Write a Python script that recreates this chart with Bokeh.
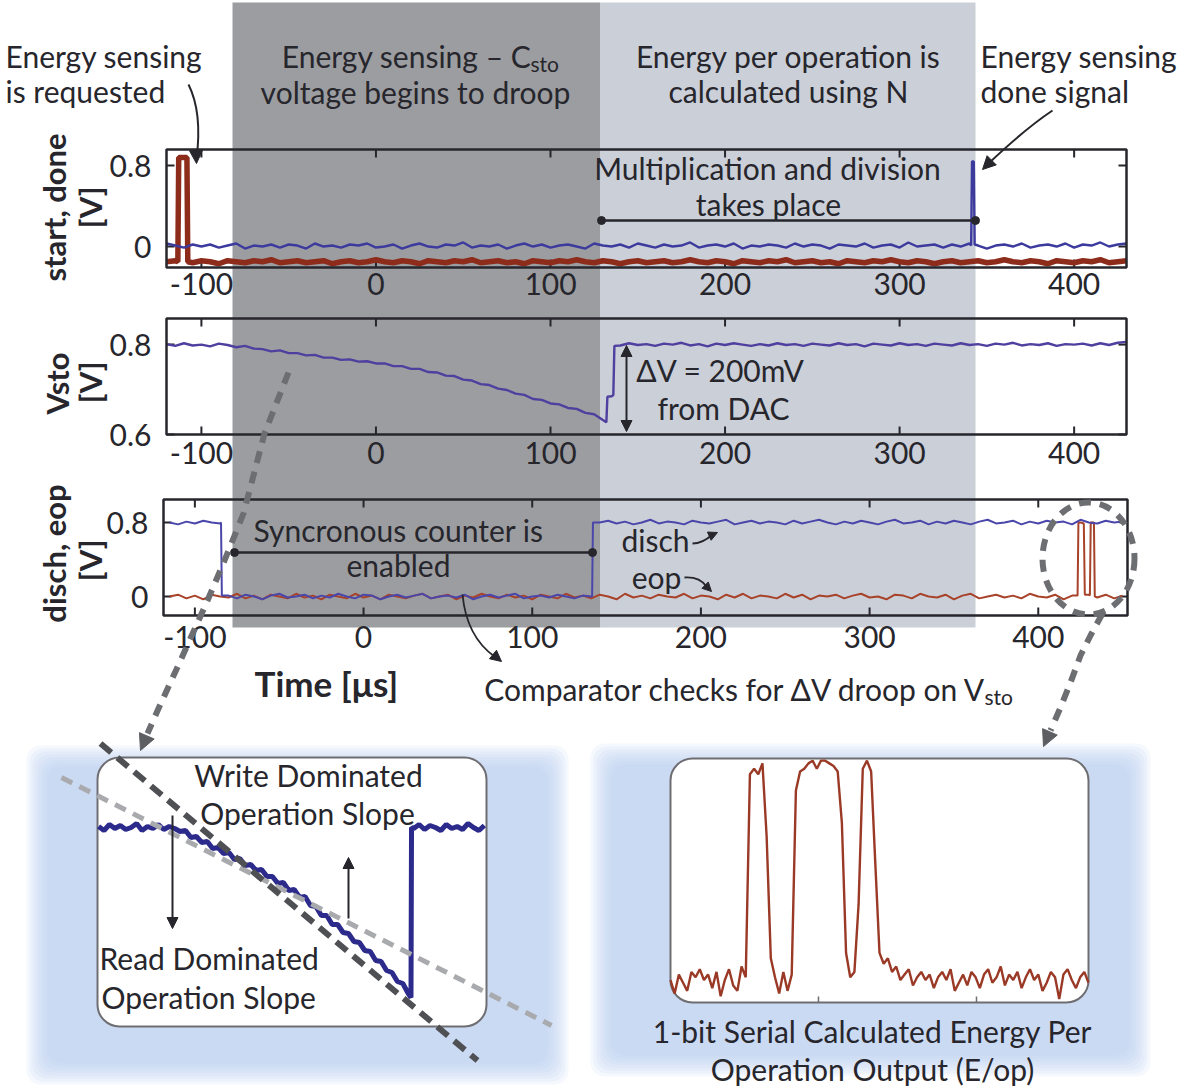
import numpy as np
from bokeh.plotting import figure
from bokeh.models import Range1d, Arrow, NormalHead
from bokeh.core.properties import value
from bokeh.embed import file_html
from bokeh.resources import INLINE

# ---------------- measured traces ----------------
# top panel: start (red) and done (blue) strobes, sampled every 5 us
t_top = np.arange(-120, 431, 5)
done_v = [0.03, 0.01, -0.01, 0.02, 0.00, 0.02, -0.01, 0.01, 0.03, -0.02,
          0.01, 0.00, 0.02, -0.01, 0.02, 0.01, -0.02, 0.03, 0.00, 0.01,
          -0.01, 0.02, 0.01, 0.03, -0.01, 0.00, 0.02, -0.02, 0.01, 0.03,
          0.00, -0.01, 0.02, 0.01, 0.04, -0.01, 0.01, 0.00, 0.02, -0.02,
          0.01, 0.03, 0.00, 0.02, -0.01, 0.01, 0.02, 0.00, -0.02, 0.03,
          0.01, 0.00, 0.02, -0.01, 0.03, 0.01, -0.01, 0.02, 0.00, 0.01,
          0.04, -0.01, 0.01, 0.02, 0.00, 0.03, -0.02, 0.01, 0.00, 0.02,
          0.01, -0.01, 0.03, 0.00, 0.02, 0.01, -0.02, 0.02, 0.01, 0.00,
          0.03, -0.01, 0.01, 0.02, -0.01, 0.04, 0.00, 0.01, 0.02, -0.01,
          0.02, 0.00, 0.03, 0.01, -0.02, 0.01, 0.02, 0.00, 0.03, -0.01,
          0.01, 0.02, 0.00, 0.03, -0.01, 0.02, 0.01, 0.04, 0.00, 0.02, 0.03]
done_edge_t = [341.0, 341.5, 342.5, 343.0]
done_edge_v = [0.01, 0.84, 0.84, 0.02]

start_v = [-0.15, -0.14, 0.88, -0.16, -0.14, -0.15, -0.17, -0.14, -0.15, -0.16,
           -0.14, -0.15, -0.13, -0.16, -0.15, -0.14, -0.16, -0.15, -0.14, -0.17,
           -0.15, -0.14, -0.16, -0.15, -0.13, -0.15, -0.16, -0.14, -0.15, -0.17,
           -0.14, -0.15, -0.16, -0.14, -0.15, -0.13, -0.16, -0.15, -0.14, -0.16,
           -0.15, -0.17, -0.14, -0.15, -0.16, -0.14, -0.15, -0.13, -0.15, -0.16,
           -0.14, -0.15, -0.17, -0.15, -0.14, -0.16, -0.15, -0.14, -0.16, -0.15,
           -0.13, -0.15, -0.16, -0.14, -0.15, -0.17, -0.14, -0.15, -0.16, -0.14,
           -0.15, -0.13, -0.16, -0.15, -0.14, -0.16, -0.15, -0.17, -0.14, -0.15,
           -0.16, -0.14, -0.15, -0.13, -0.15, -0.16, -0.14, -0.15, -0.17, -0.15,
           -0.14, -0.16, -0.15, -0.14, -0.16, -0.15, -0.13, -0.15, -0.16, -0.14,
           -0.15, -0.17, -0.14, -0.15, -0.16, -0.14, -0.15, -0.13, -0.16, -0.15, -0.14]
start_edge_t = [-113.5, -113.0, -108.3, -107.8]
start_edge_v = [-0.15, 0.88, 0.88, -0.15]

# middle panel: storage capacitor voltage
vsto_v = [0.801, 0.797, 0.803, 0.798, 0.800, 0.796, 0.802,
          0.799, 0.794, 0.797, 0.791, 0.790, 0.785, 0.787, 0.781, 0.781, 0.776,
          0.777, 0.771, 0.771, 0.766, 0.767, 0.762, 0.763, 0.758, 0.758, 0.752,
          0.752, 0.746, 0.746, 0.739, 0.738, 0.731, 0.730, 0.722, 0.720, 0.712,
          0.710, 0.702, 0.699, 0.691, 0.688, 0.679, 0.677, 0.669, 0.667, 0.659,
          0.657, 0.648, 0.645, 0.632, 0.685,
          0.798, 0.803, 0.799, 0.801, 0.797, 0.802, 0.800, 0.804, 0.798, 0.801,
          0.796, 0.802, 0.799, 0.803, 0.800, 0.797, 0.801, 0.798, 0.803, 0.799,
          0.801, 0.797, 0.802, 0.800, 0.798, 0.803, 0.799, 0.801, 0.796, 0.802,
          0.800, 0.798, 0.803, 0.799, 0.801, 0.797, 0.802, 0.800, 0.798, 0.803,
          0.799, 0.801, 0.797, 0.802, 0.800, 0.804, 0.798, 0.801, 0.799, 0.803,
          0.797, 0.801, 0.800, 0.802, 0.798, 0.803, 0.799, 0.804, 0.806]
vsto_edge_t = [132.0, 132.6, 136.0, 136.6]
vsto_edge_v = [0.627, 0.684, 0.688, 0.797]

# bottom panel: disch (blue) and eop (red)
t_bot = np.arange(-115, 451, 5)
disch_v = [0.80, 0.78, 0.81, 0.79, 0.82, 0.80, 0.79,
           0.01, -0.02, 0.02, 0.00, -0.03, 0.01, 0.03, -0.01, 0.00, 0.02,
           -0.02, 0.01, -0.01, 0.03, 0.00, -0.02, 0.02, 0.01, -0.03, 0.00,
           0.02, -0.01, 0.01, 0.03, -0.02, 0.00, 0.01, -0.01, 0.02, -0.03,
           0.00, 0.02, -0.01, 0.01, 0.03, -0.02, 0.00, 0.01, -0.01, 0.02,
           0.00, -0.02, 0.01, 0.00,
           0.80, 0.82, 0.79, 0.81, 0.78, 0.80, 0.83, 0.79, 0.81, 0.80,
           0.78, 0.82, 0.80, 0.79, 0.81, 0.83, 0.78, 0.80, 0.82, 0.79,
           0.81, 0.80, 0.78, 0.82, 0.79, 0.81, 0.83, 0.80, 0.78, 0.81,
           0.79, 0.82, 0.80, 0.78, 0.81, 0.83, 0.79, 0.80, 0.82, 0.78,
           0.81, 0.79, 0.82, 0.80, 0.78, 0.81, 0.83, 0.79, 0.80, 0.82,
           0.78, 0.81, 0.79, 0.82, 0.80, 0.81, 0.78, 0.83, 0.80, 0.79,
           0.82, 0.80, 0.81]
disch_edge_t = [-84.5, -84.0, 135.5, 136.0]
disch_edge_v = [0.80, 0.01, 0.00, 0.80]

eop_v = [0.00, 0.02, -0.02, 0.01, -0.03, 0.02, 0.00, -0.01, 0.03, -0.02,
         0.01, -0.03, 0.02, 0.00, -0.02, 0.03, -0.01, 0.01, -0.03, 0.02,
         0.00, -0.02, 0.03, -0.01, 0.01, -0.03, 0.02, 0.00, -0.02, 0.01,
         0.03, -0.02, 0.00, 0.02, -0.03, 0.01, -0.01, 0.03, 0.00, -0.02,
         0.02, -0.01, 0.01, -0.03, 0.02, 0.00, -0.02, 0.03, -0.01, 0.01,
         -0.02, 0.02, 0.00, -0.03, 0.03, -0.01, 0.01, -0.02, 0.02, 0.00,
         -0.01, 0.03, -0.02, 0.01, 0.00, -0.03, 0.02, -0.01, 0.03, -0.02,
         0.01, 0.00, -0.02, 0.03, -0.01, 0.02, -0.03, 0.01, 0.00, 0.02,
         -0.02, 0.01, 0.03, -0.01, 0.00, -0.03, 0.02, 0.01, -0.02, 0.03,
         0.00, -0.01, 0.02, -0.03, 0.01, 0.03, -0.02, 0.00, 0.02, -0.01,
         0.01, -0.02, 0.03, 0.00, -0.01, 0.02, -0.03, 0.01, 0.80, 0.02,
         -0.01, 0.02, -0.02, 0.01]
eop_edge_t = [423.3, 423.8, 427.0, 427.6, 430.6, 431.1, 433.0, 433.5]
eop_edge_v = [0.01, 0.80, 0.79, 0.02, 0.01, 0.80, 0.80, 0.00]

# zoomed view of the Vsto droop
t_zoom = np.arange(-155, 201, 5)
vzoom_v = [0.801, 0.797, 0.803, 0.799, 0.802, 0.798, 0.800, 0.804, 0.797, 0.801,
           0.799, 0.803, 0.798, 0.801, 0.799,
           0.796, 0.797, 0.790, 0.791, 0.785, 0.786, 0.779, 0.780, 0.774, 0.775,
           0.768, 0.769, 0.762, 0.763, 0.757, 0.758, 0.751, 0.751, 0.744, 0.745,
           0.737, 0.738, 0.730, 0.731, 0.722, 0.721, 0.712, 0.712, 0.703, 0.703,
           0.695, 0.694, 0.686, 0.685, 0.677, 0.676, 0.667, 0.666, 0.657, 0.655,
           0.646, 0.644, 0.634,
           0.799, 0.803, 0.798, 0.802, 0.800, 0.797, 0.803, 0.799, 0.801, 0.798,
           0.804, 0.800, 0.797, 0.802]
vzoom_edge_t = [132.5, 133.0]
vzoom_edge_v = [0.630, 0.800]

# zoomed view of the 1-bit serial E/op output (sample index)
eopz_x = np.arange(0, 101, 1)
eopz_v = [0.02, -0.03, 0.04, 0.01, -0.02, 0.05, 0.03, 0.06, 0.02, 0.04,
          -0.01, 0.05, -0.04, 0.02, 0.06, 0.00, -0.02, 0.07, 0.03,
          0.78, 0.80, 0.78, 0.82, 0.55, 0.10, 0.03, -0.03, 0.05, -0.02, 0.04,
          0.72, 0.79, 0.80, 0.82, 0.83, 0.80, 0.83, 0.83, 0.82, 0.81, 0.79,
          0.60, 0.12, 0.03, 0.05,
          0.30, 0.80, 0.83, 0.79, 0.45, 0.12,
          0.08, 0.10, 0.05, 0.07, 0.02, 0.04, 0.06, 0.00, 0.03, 0.05,
          0.02, 0.04, -0.01, 0.03, 0.05, 0.02, 0.06, -0.02, 0.01, 0.04,
          0.00, 0.05, 0.03, -0.01, 0.04, 0.06, 0.01, 0.03, 0.07, 0.00,
          0.04, 0.02, 0.05, -0.01, 0.03, 0.06, 0.02, 0.04, -0.02, 0.01,
          0.05, 0.03, -0.05, 0.04, 0.06, 0.02, -0.01, 0.03, 0.05, 0.01]

time_ticks = [-100, 0, 100, 200, 300, 400]
time_labels = ["-100", "0", "100", "200", "300", "400"]
eopz_ticks = [35.4, 73.2]


def merged(t_base, v_base, t_add, v_add):
    t = np.concatenate([np.asarray(t_base, float), np.asarray(t_add, float)])
    v = np.concatenate([np.asarray(v_base, float), np.asarray(v_add, float)])
    order = np.argsort(t, kind="stable")
    return t[order], v[order]


# ---------------- canvas ----------------
W, H = 1183, 1086
FONT = "Lato"
INK = "#26262c"
BLUE = "#3d3a9e"
RED = "#8e2c1c"
FS = 30

p = figure(width=W, height=H, x_range=Range1d(0, W), y_range=Range1d(H, 0),
           x_axis_location=None, y_axis_location=None, min_border=0,
           output_backend="svg", toolbar_location=None,
           outline_line_color=None, background_fill_color="white",
           border_fill_color="white")
p.grid.visible = False


def label(x, y, s, size=FS, align="center", bold=False, angle=0.0,
          color=INK):
    p.text(x=[x], y=[y], text=[s], text_font=value(FONT),
           text_font_size=f"{size}px",
           text_font_style="bold" if bold else "normal",
           text_align=align, text_baseline="middle", angle=angle,
           text_color=color)


def arrow_head(x0, y0, x1, y1, size=13, color=INK):
    p.add_layout(Arrow(end=NormalHead(size=size, fill_color=color,
                                      line_color=color),
                       x_start=x0, y_start=y0, x_end=x1, y_end=y1,
                       line_alpha=0))


def add_panel(name, box, xr, yr):
    """Register ranges that map a data window onto a pixel box of the canvas."""
    L, R, T, B = box
    x0, x1 = xr
    y0, y1 = yr
    kx = (x1 - x0) / (R - L)
    ky = (y1 - y0) / (B - T)
    p.extra_x_ranges[name + "x"] = Range1d(x0 - L * kx, x0 + (W - L) * kx)
    p.extra_y_ranges[name + "y"] = Range1d(y0 - (H - B) * ky, y0 + B * ky)
    return dict(x_range_name=name + "x", y_range_name=name + "y")


# ---------------- phase shading ----------------
p.quad(left=[232], right=[600], top=[2], bottom=[627],
       fill_color="#9c9da0", line_color=None)
p.quad(left=[600], right=[975], top=[2], bottom=[627],
       fill_color="#cbcfd8", line_color=None)

# ---------------- scope panels ----------------
panels = [
    ("a", (166, 1126, 149, 267), (-120, 430), (-0.207, 0.958), [0, 0.8], ["0", "0.8"], 283),
    ("b", (166, 1126, 318, 434), (-120, 430), (0.6, 0.858), [0.6, 0.8], ["0.6", "0.8"], 452),
    ("c", (163, 1127, 499, 615), (-118.6, 452.9), (-0.205, 1.049), [0, 0.8], ["0", "0.8"], 636),
]
rn = {}
for name, box, xr, yr, yt, yl, lab_y in panels:
    L, R, T, B = box
    r = add_panel(name, box, xr, yr)
    rn[name] = r
    n = len(time_ticks)
    xr_only = dict(x_range_name=r["x_range_name"])
    yr_only = dict(y_range_name=r["y_range_name"])
    p.segment(x0=time_ticks, x1=time_ticks, y0=[B] * n, y1=[B - 8] * n,
              line_color=INK, line_width=2, **xr_only)
    p.segment(x0=time_ticks, x1=time_ticks, y0=[T] * n, y1=[T + 8] * n,
              line_color=INK, line_width=2, **xr_only)
    p.text(x=time_ticks, y=[lab_y] * n, text=time_labels, text_align="center",
           text_baseline="middle", text_font=value(FONT), text_font_size="30px",
           text_color=INK, **xr_only)
    m = len(yt)
    p.segment(x0=[L] * m, x1=[L + 8] * m, y0=yt, y1=yt,
              line_color=INK, line_width=2, **yr_only)
    p.segment(x0=[R - 8] * m, x1=[R] * m, y0=yt, y1=yt,
              line_color=INK, line_width=2, **yr_only)
    p.text(x=[L - 15] * m, y=yt, text=yl, text_align="right",
           text_baseline="middle", text_font=value(FONT), text_font_size="30px",
           text_color=INK, **yr_only)

# traces: top panel
ts, vs = merged(t_top, start_v, start_edge_t, start_edge_v)
p.line(ts, vs, line_color=RED, line_width=5.5, **rn["a"])
td, vd = merged(t_top, done_v, done_edge_t, done_edge_v)
p.line(td, vd, line_color=BLUE, line_width=2.4, **rn["a"])

# middle panel
tv, vv = merged(t_top, vsto_v, vsto_edge_t, vsto_edge_v)
p.line(tv, vv, line_color="#4f3f9f", line_width=2.4, **rn["b"])

# bottom panel
te, ve = merged(t_bot, eop_v, eop_edge_t, eop_edge_v)
p.line(te, ve, line_color="#a8432a", line_width=2, **rn["c"])
tdi, vdi = merged(t_bot, disch_v, disch_edge_t, disch_edge_v)
p.line(tdi, vdi, line_color="#4a46aa", line_width=2, **rn["c"])

# panel frames
for name, box, xr, yr, *_ in panels:
    p.quad(left=[xr[0]], right=[xr[1]], bottom=[yr[0]], top=[yr[1]],
           fill_color=None, line_color=INK, line_width=2.5, **rn[name])

# ---------------- panel annotations ----------------
label(5, 55, "Energy sensing", align="left")
label(5, 90, "is requested", align="left")
label(531, 55, "Energy sensing \u2013 C", align="right")
label(530, 63, "sto", size=21, align="left")
label(415, 91, "voltage begins to droop")
label(788, 55, "Energy per operation is")
label(788, 90, "calculated using N")
label(980, 55, "Energy sensing", align="left")
label(980, 90, "done signal", align="left")

p.quadratic(x0=[188], y0=[84], x1=[196], y1=[158], cx=[202], cy=[112],
            line_color=INK, line_width=2)
arrow_head(195.5, 150, 196, 163)
p.quadratic(x0=[1052], y0=[110], x1=[988], y1=[163], cx=[1025], cy=[128],
            line_color=INK, line_width=2)
arrow_head(992, 159, 982, 169)

label(767, 167, "Multiplication and division")
label(768, 203, "takes place")
p.segment(x0=[601], y0=[220], x1=[975], y1=[220], line_color=INK, line_width=2.5)
p.scatter(x=[601, 975], y=[220, 220], size=8, color=INK)

p.segment(x0=[626], y0=[352], x1=[626], y1=[424], line_color=INK, line_width=2)
arrow_head(626, 356, 626, 345, size=11)
arrow_head(626, 420, 626, 431, size=11)
label(720, 369, "\u0394V = 200mV")
label(723, 407, "from DAC")

label(398, 529, "Syncronous counter is")
label(398, 564, "enabled")
p.segment(x0=[234], y0=[552], x1=[592], y1=[552], line_color=INK, line_width=2.5)
p.scatter(x=[234, 592], y=[552, 552], size=8, color=INK)

label(655, 539, "disch")
p.quadratic(x0=[692], y0=[543], x1=[712], y1=[534], cx=[702], cy=[543],
            line_color=INK, line_width=1.8)
arrow_head(708, 536, 717, 532, size=9)
label(656, 576, "eop")
p.quadratic(x0=[684], y0=[577], x1=[706], y1=[586], cx=[699], cy=[576],
            line_color=INK, line_width=1.8)
arrow_head(703, 583, 711, 591, size=9)

label(326, 682, "Time [\u03bcs]", size=35, bold=True)
label(987, 688, "Comparator checks for \u0394V droop on V", align="right")
label(984, 696, "sto", size=21, align="left")
p.quadratic(x0=[462], y0=[594], x1=[494], y1=[656], cx=[466], cy=[636],
            line_color=INK, line_width=1.8)
arrow_head(490, 652, 501, 661, size=11)

# rotated y labels
label(53, 207, "start, done", size=31, bold=True, angle=np.pi / 2)
label(89, 207, "[V]", size=31, bold=True, angle=np.pi / 2)
label(56, 383, "Vsto", size=31, bold=True, angle=np.pi / 2)
label(89, 382, "[V]", size=31, bold=True, angle=np.pi / 2)
label(53, 553, "disch, eop", size=31, bold=True, angle=np.pi / 2)
label(89, 560, "[V]", size=31, bold=True, angle=np.pi / 2)

# ---------------- insets ----------------
for (L, R, T, B) in [(26, 568, 745, 1084), (590, 1150, 743, 1076)]:
    for d in range(0, 24, 3):
        p.quad(left=[L + d], right=[R - d], top=[T + d], bottom=[B - d],
               fill_color="#b7cfee", fill_alpha=0.14, line_color=None,
               border_radius=14)

ins_a = add_panel("za", (97, 486, 757, 1026), (-156, 202), (0.601, 0.870))
ins_b = add_panel("zb", (670, 1088, 758, 1002), (0, 100), (-0.063, 0.838))

p.quad(left=[97], right=[486], top=[757], bottom=[1026], fill_color="white",
       line_color="#6e6e72", line_width=2, border_radius=22)
p.quad(left=[670], right=[1088], top=[758], bottom=[1002], fill_color="white",
       line_color="#6e6e72", line_width=2, border_radius=22)

tz, vz = merged(t_zoom, vzoom_v, vzoom_edge_t, vzoom_edge_v)
p.line(tz, vz, line_color="#2c2b8c", line_width=5, **ins_a)
p.segment(x0=eopz_ticks, x1=eopz_ticks, y0=[1002, 1002], y1=[996, 996],
          line_color="#6e6e72", line_width=1.5, x_range_name="zbx")
p.line(eopz_x, eopz_v, line_color="#9a3a26", line_width=2.4, **ins_b)

# slope guides
p.line(x=[61, 551], y=[777, 1025], line_color="#a9aaad", line_width=5,
       line_dash="12 8")
p.line(x=[100, 477], y=[743, 1060], line_color="#4f5054", line_width=6,
       line_dash="14 8")
p.segment(x0=[172], y0=[815], x1=[172], y1=[918], line_color=INK, line_width=2)
arrow_head(172, 915, 172, 928, size=11)
p.segment(x0=[348], y0=[918], x1=[348], y1=[866], line_color=INK, line_width=2)
arrow_head(348, 868, 348, 857, size=11)

label(308, 774, "Write Dominated")
label(307, 812, "Operation Slope")
label(99, 957, "Read Dominated", align="left")
label(101, 996, "Operation Slope", align="left")

label(872, 1030, "1-bit Serial Calculated Energy Per")
label(872, 1068, "Operation Output (E/op)")

# dashed connectors from the traces to the insets
p.line(x=[288, 264, 243, 224, 207, 180, 158, 147],
       y=[372, 433, 513, 560, 600, 660, 708, 733],
       line_color="#6d6e72", line_width=6, line_dash="12 9")
arrow_head(146, 736, 140, 750, size=16, color="#5d5e62")
p.ellipse(x=[1088], y=[558], width=[92], height=[112], fill_color=None,
          line_color="#6d6e72", line_width=6, line_dash="12 9")
p.line(x=[1102, 1090, 1080, 1070, 1060, 1050],
       y=[613, 635, 655, 682, 707, 730],
       line_color="#6d6e72", line_width=6, line_dash="12 9")
arrow_head(1050, 730, 1043, 746, size=16, color="#5d5e62")

open("out.html", "w").write(file_html(p, INLINE))
